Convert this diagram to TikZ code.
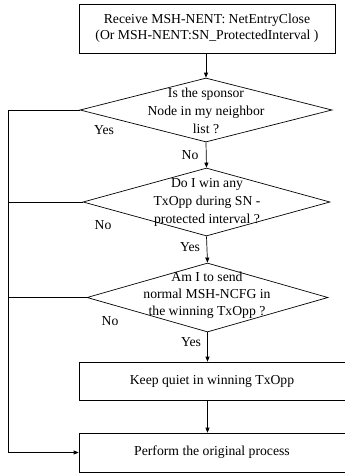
\documentclass[tikz,border=0pt]{standalone}
\usepackage{fontspec}
\setmainfont{Liberation Serif}
\usetikzlibrary{arrows.meta,shapes.geometric}
\begin{document}
\begin{tikzpicture}[x=1pt,y=-1pt,
  line width=0.7pt,
  every node/.style={font=\fontsize{13.7}{16}\selectfont},
  procbox/.style={draw, rectangle, inner sep=0pt},
  decision/.style={draw, diamond, inner sep=0pt},
  caption/.style={align=center, inner sep=0pt, font=\fontsize{13.7}{18}\selectfont},
  lbl/.style={inner sep=0pt},
  flow/.style={-{Triangle[length=5pt,width=4pt]}}]
\useasboundingbox (0,0) rectangle (345,475);

% process boxes
\node[procbox, minimum width=256pt, minimum height=49pt, align=center] (start) at (207,28.5)
  {Receive MSH-NENT: NetEntryClose\\(Or MSH-NENT:SN\_ProtectedInterval )};
\node[procbox, minimum width=266pt, minimum height=38pt] (quiet) at (212,381) {Keep quiet in winning TxOpp};
\node[procbox, minimum width=266pt, minimum height=39pt] (orig) at (212,452.5) {Perform the original process};

% decisions
\node[decision, minimum width=252pt, minimum height=64pt] (d1) at (206,110) {};
\node[caption] at (206,111) {Is the sponsor\\Node in my neighbor\\list ?};
\node[decision, minimum width=247pt, minimum height=68pt] (d2) at (206.5,202) {};
\node[caption] at (207,202) {Do I win any\\TxOpp during SN -\\protected interval ?};
\node[decision, minimum width=241pt, minimum height=69pt] (d3) at (207.5,297.5) {};
\node[caption, font=\fontsize{13.7}{17}\selectfont] at (207,295) {Am I to send\\normal MSH-NCFG in\\the winning TxOpp ?};

% branch labels
\node[lbl] at (104,130) {Yes};
\node[lbl] at (190,155) {No};
\node[lbl] at (103,225) {No};
\node[lbl] at (190,247) {Yes};
\node[lbl] at (110,321) {No};
\node[lbl] at (191,342) {Yes};

% connectors
\coordinate (rail) at (8,110);
\draw[flow] (start.south -| d1.north) -- (d1.north);
\draw[flow] (d1.south) -- (d2.north);
\draw[flow] (d2.south) -- (d3.north);
\draw[flow] (d3.south) -- (d3.south |- quiet.north);
\draw[flow] (quiet.south -| d3.south) -- (d3.south |- orig.north);
\draw[flow] (d1.west) -- (rail) -- (rail |- orig.west) -- (orig.west);
\draw (d2.west) -- (d2.west -| rail);
\draw (d3.west) -- (d3.west -| rail);
\end{tikzpicture}
\end{document}
